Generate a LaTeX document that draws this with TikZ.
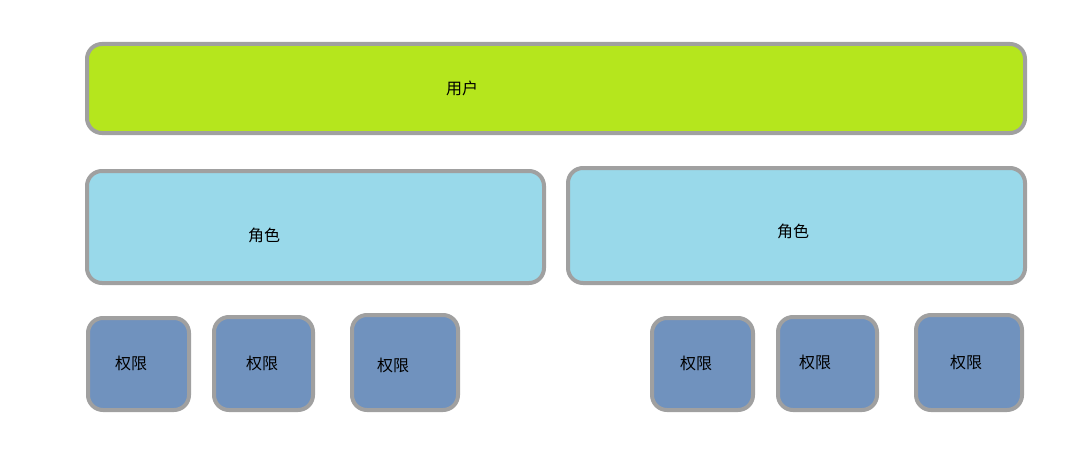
\documentclass[tikz,border=0pt]{standalone}
\usepackage{fontspec}
\newfontfamily\cjk{Noto Sans CJK SC}
\definecolor{usergreen}{RGB}{181,230,29}
\definecolor{rolecyan}{RGB}{153,217,234}
\definecolor{permblue}{RGB}{112,146,190}
\definecolor{rimgray}{RGB}{160,160,160}
\tikzset{
	box/.style={draw=rimgray, line width=4pt, rounded corners=15pt, inner sep=0pt},
	word/.style={font=\cjk\fontsize{16}{19}\selectfont, text=black, inner sep=0pt}
}

\begin{document}
\begin{tikzpicture}[x=1pt, y=-1pt]
			%%%%% START %%%%%
			
			\useasboundingbox[fill=white] (0, 0) rectangle (1091, 460);
			
			\node[box, fill=usergreen, minimum width=938pt, minimum height=89pt] (user) at (556, 88.5) {};
			\node[word] (usertext) at (462, 88) {用户};
			
			\node[box, fill=rolecyan, minimum width=457pt, minimum height=112pt] (roleA) at (315.5, 227) {};
			\node[word] (roleAtext) at (264, 235) {角色};
			\node[box, fill=rolecyan, minimum width=457pt, minimum height=115pt] (roleB) at (796.5, 225.5) {};
			\node[word] (roleBtext) at (793, 231) {角色};
			
			\node[box, fill=permblue, minimum width=101pt, minimum height=92pt] (permA) at (138.5, 364) {};
			\node[word] (permAtext) at (131, 363) {权限};
			\node[box, fill=permblue, minimum width=99pt, minimum height=93pt] (permB) at (263.5, 363.5) {};
			\node[word] (permBtext) at (262, 363) {权限};
			\node[box, fill=permblue, minimum width=106pt, minimum height=95pt] (permC) at (405, 362.5) {};
			\node[word] (permCtext) at (393, 365) {权限};
			
			\node[box, fill=permblue, minimum width=101pt, minimum height=92pt] (permD) at (702.5, 364) {};
			\node[word] (permDtext) at (696, 363) {权限};
			\node[box, fill=permblue, minimum width=99pt, minimum height=93pt] (permE) at (827.5, 363.5) {};
			\node[word] (permEtext) at (815, 362) {权限};
			\node[box, fill=permblue, minimum width=106pt, minimum height=95pt] (permF) at (969, 362.5) {};
			\node[word] (permFtext) at (966, 362) {权限};
			
			%%%%% END %%%%%
\end{tikzpicture}
\end{document}
